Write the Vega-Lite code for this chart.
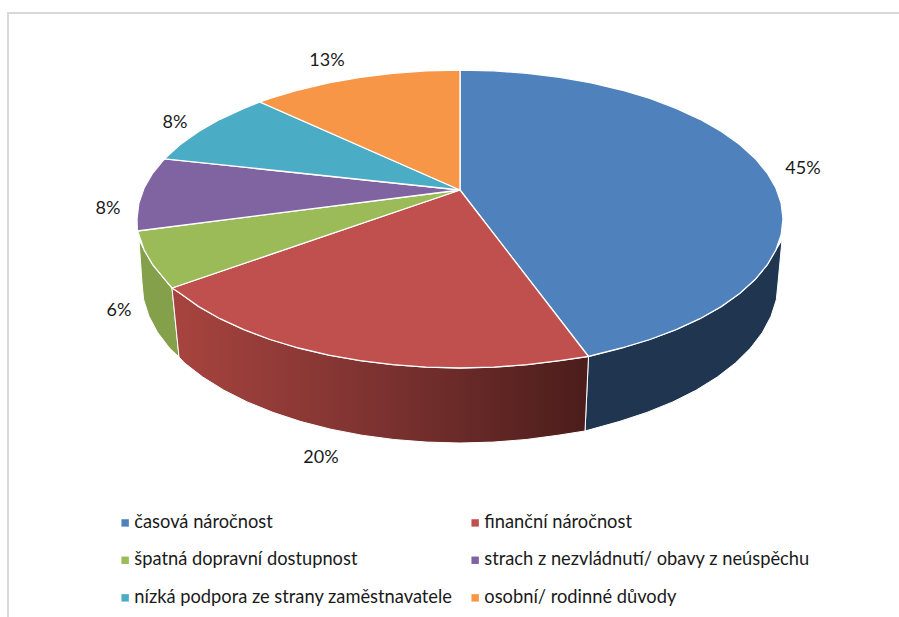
{"$schema":"https://vega.github.io/schema/vega-lite/v6.json","width":899,"height":617,"padding":0,"autosize":{"type":"none"},"background":"white","view":{"stroke":null},
"config":{"font":"Lato"},
"datasets":{
"frame":[{"n":0,"x":8,"y":617},{"n":1,"x":8,"y":13},{"n":2,"x":899,"y":13}],
"blueSide":[{"n":0,"x":782,"y":240},{"n":1,"x":775.9,"y":250},{"n":2,"x":767.2,"y":265},{"n":3,"x":755.1,"y":279.6},{"n":4,"x":739.7,"y":293.5},{"n":5,"x":721.3,"y":306.6},{"n":6,"x":700,"y":318.7},{"n":7,"x":676.1,"y":329.7},{"n":8,"x":649.9,"y":339.5},{"n":9,"x":621.5,"y":348},{"n":10,"x":588.5,"y":356.5},{"n":11,"x":585,"y":431},{"n":12,"x":619,"y":421.6},{"n":13,"x":646.9,"y":412.4},{"n":14,"x":672.8,"y":401.9},{"n":15,"x":696.3,"y":390.1},{"n":16,"x":717.3,"y":377},{"n":17,"x":735.4,"y":363},{"n":18,"x":750.5,"y":348.1},{"n":19,"x":762.4,"y":332.4},{"n":20,"x":771,"y":316.3},{"n":21,"x":776.3,"y":299.7},{"n":22,"x":778,"y":283},{"n":23,"x":782,"y":240}],
"redSide":[{"n":0,"x":588.5,"y":356.5},{"n":1,"x":559.8,"y":360.7},{"n":2,"x":527.2,"y":364.7},{"n":3,"x":493.8,"y":367.2},{"n":4,"x":460,"y":368},{"n":5,"x":426.2,"y":367.2},{"n":6,"x":392.8,"y":364.7},{"n":7,"x":360.2,"y":360.7},{"n":8,"x":328.6,"y":355.1},{"n":9,"x":298.5,"y":348},{"n":10,"x":270.1,"y":339.5},{"n":11,"x":243.9,"y":329.7},{"n":12,"x":220,"y":318.7},{"n":13,"x":198.7,"y":306.6},{"n":14,"x":180.3,"y":293.5},{"n":15,"x":172,"y":288},{"n":16,"x":179,"y":357},{"n":17,"x":184.6,"y":363},{"n":18,"x":202.7,"y":377},{"n":19,"x":223.7,"y":390.1},{"n":20,"x":247.2,"y":401.9},{"n":21,"x":273.1,"y":412.4},{"n":22,"x":301,"y":421.6},{"n":23,"x":330.7,"y":429.2},{"n":24,"x":361.7,"y":435.2},{"n":25,"x":393.9,"y":439.5},{"n":26,"x":426.8,"y":442.1},{"n":27,"x":460,"y":443},{"n":28,"x":493.2,"y":442.1},{"n":29,"x":526.1,"y":439.5},{"n":30,"x":558.3,"y":435.2},{"n":31,"x":585,"y":431},{"n":32,"x":588.5,"y":356.5}],
"greenSide":[{"n":0,"x":172,"y":288},{"n":1,"x":164.9,"y":279.6},{"n":2,"x":152.8,"y":265},{"n":3,"x":144.1,"y":250},{"n":4,"x":139,"y":240},{"n":5,"x":142,"y":283},{"n":6,"x":143.7,"y":299.7},{"n":7,"x":149,"y":316.3},{"n":8,"x":157.6,"y":332.4},{"n":9,"x":169.5,"y":348.1},{"n":10,"x":179,"y":357},{"n":11,"x":172,"y":288}],
"face":[
{"slice":"časová náročnost","n":0,"x":460,"y":190},{"slice":"časová náročnost","n":1,"x":460,"y":70},{"slice":"časová náročnost","n":2,"x":493.8,"y":70.8},{"slice":"časová náročnost","n":3,"x":527.2,"y":73.3},{"slice":"časová náročnost","n":4,"x":559.8,"y":77.3},{"slice":"časová náročnost","n":5,"x":591.4,"y":82.9},{"slice":"časová náročnost","n":6,"x":621.5,"y":90},{"slice":"časová náročnost","n":7,"x":649.9,"y":98.5},{"slice":"časová náročnost","n":8,"x":676.1,"y":108.3},{"slice":"časová náročnost","n":9,"x":700,"y":119.3},{"slice":"časová náročnost","n":10,"x":721.3,"y":131.4},{"slice":"časová náročnost","n":11,"x":739.7,"y":144.5},{"slice":"časová náročnost","n":12,"x":755.1,"y":158.4},{"slice":"časová náročnost","n":13,"x":767.2,"y":173},{"slice":"časová náročnost","n":14,"x":775.9,"y":188},{"slice":"časová náročnost","n":15,"x":781.2,"y":203.4},{"slice":"časová náročnost","n":16,"x":783,"y":219},{"slice":"časová náročnost","n":17,"x":781.2,"y":234.6},{"slice":"časová náročnost","n":18,"x":775.9,"y":250},{"slice":"časová náročnost","n":19,"x":767.2,"y":265},{"slice":"časová náročnost","n":20,"x":755.1,"y":279.6},{"slice":"časová náročnost","n":21,"x":739.7,"y":293.5},{"slice":"časová náročnost","n":22,"x":721.3,"y":306.6},{"slice":"časová náročnost","n":23,"x":700,"y":318.7},{"slice":"časová náročnost","n":24,"x":676.1,"y":329.7},{"slice":"časová náročnost","n":25,"x":649.9,"y":339.5},{"slice":"časová náročnost","n":26,"x":621.5,"y":348},{"slice":"časová náročnost","n":27,"x":588.5,"y":356.5},{"slice":"časová náročnost","n":28,"x":460,"y":190},
{"slice":"finanční náročnost","n":0,"x":460,"y":190},{"slice":"finanční náročnost","n":1,"x":588.5,"y":356.5},{"slice":"finanční náročnost","n":2,"x":559.8,"y":360.7},{"slice":"finanční náročnost","n":3,"x":527.2,"y":364.7},{"slice":"finanční náročnost","n":4,"x":493.8,"y":367.2},{"slice":"finanční náročnost","n":5,"x":460,"y":368},{"slice":"finanční náročnost","n":6,"x":426.2,"y":367.2},{"slice":"finanční náročnost","n":7,"x":392.8,"y":364.7},{"slice":"finanční náročnost","n":8,"x":360.2,"y":360.7},{"slice":"finanční náročnost","n":9,"x":328.6,"y":355.1},{"slice":"finanční náročnost","n":10,"x":298.5,"y":348},{"slice":"finanční náročnost","n":11,"x":270.1,"y":339.5},{"slice":"finanční náročnost","n":12,"x":243.9,"y":329.7},{"slice":"finanční náročnost","n":13,"x":220,"y":318.7},{"slice":"finanční náročnost","n":14,"x":198.7,"y":306.6},{"slice":"finanční náročnost","n":15,"x":180.3,"y":293.5},{"slice":"finanční náročnost","n":16,"x":172,"y":288},{"slice":"finanční náročnost","n":17,"x":460,"y":190},
{"slice":"špatná dopravní dostupnost","n":0,"x":460,"y":190},{"slice":"špatná dopravní dostupnost","n":1,"x":172,"y":288},{"slice":"špatná dopravní dostupnost","n":2,"x":164.9,"y":279.6},{"slice":"špatná dopravní dostupnost","n":3,"x":152.8,"y":265},{"slice":"špatná dopravní dostupnost","n":4,"x":144.1,"y":250},{"slice":"špatná dopravní dostupnost","n":5,"x":138.8,"y":234.6},{"slice":"špatná dopravní dostupnost","n":6,"x":137.3,"y":231},{"slice":"špatná dopravní dostupnost","n":7,"x":460,"y":190},
{"slice":"strach z nezvládnutí/ obavy z neúspěchu","n":0,"x":460,"y":190},{"slice":"strach z nezvládnutí/ obavy z neúspěchu","n":1,"x":137.3,"y":231},{"slice":"strach z nezvládnutí/ obavy z neúspěchu","n":2,"x":137,"y":219},{"slice":"strach z nezvládnutí/ obavy z neúspěchu","n":3,"x":138.8,"y":203.4},{"slice":"strach z nezvládnutí/ obavy z neúspěchu","n":4,"x":144.1,"y":188},{"slice":"strach z nezvládnutí/ obavy z neúspěchu","n":5,"x":152.8,"y":173},{"slice":"strach z nezvládnutí/ obavy z neúspěchu","n":6,"x":164.5,"y":158.8},{"slice":"strach z nezvládnutí/ obavy z neúspěchu","n":7,"x":460,"y":190},
{"slice":"nízká podpora ze strany zaměstnavatele","n":0,"x":460,"y":190},{"slice":"nízká podpora ze strany zaměstnavatele","n":1,"x":164.5,"y":158.8},{"slice":"nízká podpora ze strany zaměstnavatele","n":2,"x":180.3,"y":144.5},{"slice":"nízká podpora ze strany zaměstnavatele","n":3,"x":198.7,"y":131.4},{"slice":"nízká podpora ze strany zaměstnavatele","n":4,"x":220,"y":119.3},{"slice":"nízká podpora ze strany zaměstnavatele","n":5,"x":243.9,"y":108.3},{"slice":"nízká podpora ze strany zaměstnavatele","n":6,"x":260,"y":102},{"slice":"nízká podpora ze strany zaměstnavatele","n":7,"x":460,"y":190},
{"slice":"osobní/ rodinné důvody","n":0,"x":460,"y":190},{"slice":"osobní/ rodinné důvody","n":1,"x":260,"y":102},{"slice":"osobní/ rodinné důvody","n":2,"x":270.1,"y":98.5},{"slice":"osobní/ rodinné důvody","n":3,"x":298.5,"y":90},{"slice":"osobní/ rodinné důvody","n":4,"x":328.6,"y":82.9},{"slice":"osobní/ rodinné důvody","n":5,"x":360.2,"y":77.3},{"slice":"osobní/ rodinné důvody","n":6,"x":392.8,"y":73.3},{"slice":"osobní/ rodinné důvody","n":7,"x":426.2,"y":70.8},{"slice":"osobní/ rodinné důvody","n":8,"x":460,"y":70},{"slice":"osobní/ rodinné důvody","n":9,"x":460,"y":190}],
"shares":[{"share":0.45,"x":803,"y":169},{"share":0.2,"x":321,"y":458},{"share":0.06,"x":119,"y":311},{"share":0.08,"x":108,"y":209},{"share":0.08,"x":175,"y":123},{"share":0.13,"x":327,"y":61}]
},
"encoding":{
"x":{"field":"x","type":"quantitative","axis":null,"scale":{"domain":[0,899],"nice":false,"zero":false}},
"y":{"field":"y","type":"quantitative","axis":null,"scale":{"domain":[617,0],"nice":false,"zero":false}}
},
"layer":[
{"data":{"name":"frame"},"mark":{"type":"line","stroke":"#d9d9d9","strokeWidth":2},"encoding":{"order":{"field":"n"}}},
{"data":{"name":"blueSide"},"mark":{"type":"line","fill":"#20354f","stroke":"#ffffff","strokeWidth":1},"encoding":{"order":{"field":"n"}}},
{"data":{"name":"greenSide"},"mark":{"type":"line","fill":"#84a04a","stroke":"#ffffff","strokeWidth":1},"encoding":{"order":{"field":"n"}}},
{"data":{"name":"redSide"},"mark":{"type":"line","stroke":"#ffffff","strokeWidth":1,"fill":{"gradient":"linear","x1":0,"y1":0,"x2":1,"y2":0,"stops":[{"offset":0,"color":"#a8443f"},{"offset":0.5,"color":"#7c3230"},{"offset":1,"color":"#4b1d1b"}]}},"encoding":{"order":{"field":"n"}}},
{"data":{"name":"face"},"mark":{"type":"line","stroke":"#ffffff","strokeWidth":1.3},"encoding":{"order":{"field":"n"},
"fill":{"field":"slice","type":"nominal","scale":{"domain":["časová náročnost","špatná dopravní dostupnost","nízká podpora ze strany zaměstnavatele","finanční náročnost","strach z nezvládnutí/ obavy z neúspěchu","osobní/ rodinné důvody"],"range":["#4f81bd","#9bbb59","#4bacc6","#c0504d","#8064a2","#f79646"]},
"legend":{"title":null,"orient":"none","legendX":116,"legendY":513.5,"columns":2,"columnPadding":13,"rowPadding":18.6,"symbolType":"square","symbolSize":55,"symbolStrokeWidth":0,"labelFont":"Lato","labelFontSize":18.3,"labelColor":"#1a1a1a","labelLimit":400,"labelOffset":0}}}},
{"data":{"name":"shares"},"mark":{"type":"text","font":"Lato","fontSize":18,"color":"#1a1a1a"},"encoding":{"text":{"field":"share","type":"quantitative","format":".0%"}}}
]}
